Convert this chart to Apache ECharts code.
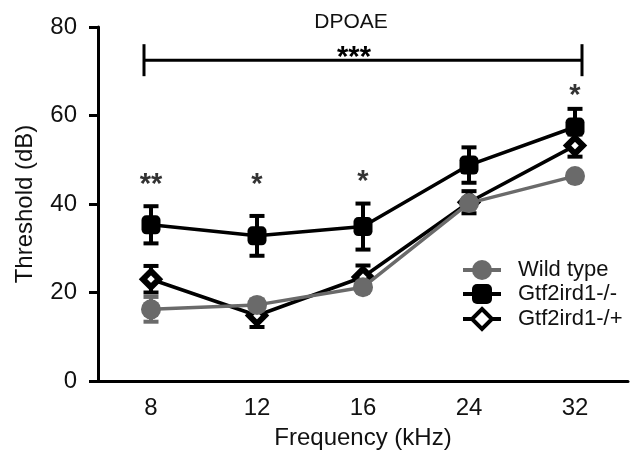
<!DOCTYPE html>
<html>
<head>
<meta charset="utf-8">
<script src="https://cdn.jsdelivr.net/npm/echarts@6/dist/echarts.min.js"></script>
<style>html,body{margin:0;padding:0;background:#fff;}#c{width:630px;height:455px;}</style>
</head>
<body>
<div id="c"></div>
<script>
const categories = ['8', '12', '16', '24', '32'];
const yTicks = [0, 20, 40, 60, 80];
const wildType = [16.2, 17.2, 21.2, 40.2, 46.3];
const wildTypeErr = [2.8, 1.2, 1.0, 1.0, 0.8];
const koHom = [35.3, 32.8, 34.9, 48.8, 57.4];
const koHomErr = [4.2, 4.5, 5.2, 4.0, 4.1];
const koHet = [23.0, 14.8, 23.5, 40.4, 53.2];
const koHetErr = [3.0, 2.6, 2.6, 2.5, 2.5];
const starLabels = ['**', '*', '*', '', '*'];
const starValues = [44.3, 44.3, 45.0, null, 64.4];
const bracketEnds = [0, 4];
const bracketValue = [72.5];
const bracketLabel = ['***'];
const panelTitle = ['DPOAE'];
const titleValue = [81];

const FONT = 'Liberation Sans, Arial, sans-serif';
const GRAY = '#6a6a6a';

function errData(vals, errs) {
  return vals.map((v, i) => [i, v - errs[i], v + errs[i]]);
}
function errSeries(name, vals, errs, color, z) {
  return {
    type: 'custom', name: name + '_err', z: z, silent: true,
    data: errData(vals, errs),
    renderItem: function (params, api) {
      const lo = api.coord([api.value(0), api.value(1)]);
      const hi = api.coord([api.value(0), api.value(2)]);
      const w = 7.5;
      const st = { stroke: color, lineWidth: 4 };
      return { type: 'group', children: [
        { type: 'line', shape: { x1: lo[0], y1: lo[1], x2: hi[0], y2: hi[1] }, style: st },
        { type: 'line', shape: { x1: lo[0] - w, y1: lo[1], x2: lo[0] + w, y2: lo[1] }, style: st },
        { type: 'line', shape: { x1: hi[0] - w, y1: hi[1], x2: hi[0] + w, y2: hi[1] }, style: st }
      ]};
    }
  };
}

const chart = echarts.init(document.getElementById('c'));
chart.setOption({
  animation: false,
  backgroundColor: '#fff',
  grid: { left: 98, right: 2, top: 27, bottom: 74 },
  legend: {
    data: [
      { name: 'Wild type' },
      { name: 'Gtf2ird1-/-' },
      { name: 'Gtf2ird1-/+', itemStyle: { color: '#fff', borderColor: '#000', borderWidth: 4 } }
    ],
    orient: 'vertical', left: 456, top: 254, itemGap: 2,
    itemWidth: 38, itemHeight: 25,
    lineStyle: { width: 4 },
    textStyle: { fontFamily: FONT, fontSize: 22, color: '#111', padding: [0, 0, 0, 12] }
  },
  xAxis: {
    type: 'category', data: categories, boundaryGap: true,
    name: 'Frequency (kHz)', nameLocation: 'middle', nameGap: 45,
    nameTextStyle: { fontFamily: FONT, fontSize: 24, color: '#111' },
    axisLine: { lineStyle: { color: '#000', width: 3 } },
    axisTick: { show: false },
    axisLabel: { fontFamily: FONT, fontSize: 24, color: '#111', margin: 15 },
    splitLine: { show: false }
  },
  yAxis: {
    type: 'value', min: yTicks[0], max: yTicks[yTicks.length - 1], interval: 20,
    name: 'Threshold (dB)', nameLocation: 'middle', nameGap: 61,
    nameTextStyle: { fontFamily: FONT, fontSize: 24, color: '#111' },
    axisLine: { show: true, lineStyle: { color: '#000', width: 3 } },
    axisTick: { show: true, length: 9, lineStyle: { color: '#000', width: 3 } },
    axisLabel: { fontFamily: FONT, fontSize: 24, color: '#111', margin: 21 },
    splitLine: { show: false }
  },
  series: [
    errSeries('Gtf2ird1-/-', koHom, koHomErr, '#000', 2),
    {
      name: 'Gtf2ird1-/-', type: 'line', data: koHom, z: 3,
      symbol: 'roundRect', symbolSize: 19,
      lineStyle: { color: '#000', width: 3.5 },
      itemStyle: { color: '#000' }
    },
    errSeries('Gtf2ird1-/+', koHet, koHetErr, '#000', 2),
    {
      name: 'Gtf2ird1-/+', type: 'line', data: koHet, z: 3,
      symbol: 'diamond', symbolSize: 16,
      lineStyle: { color: '#000', width: 3.5 },
      itemStyle: { color: '#fff', borderColor: '#000', borderWidth: 6 }
    },
    errSeries('Wild type', wildType, wildTypeErr, GRAY, 4),
    {
      name: 'Wild type', type: 'line', data: wildType, z: 5,
      symbol: 'circle', symbolSize: 20,
      lineStyle: { color: GRAY, width: 3.5 },
      itemStyle: { color: GRAY }
    },
    {
      type: 'scatter', name: 'stars', z: 6, silent: true,
      data: starValues.map((v, i) => ({ value: [i, v], label: { formatter: starLabels[i] } })),
      symbolSize: 0,
      label: { show: true, position: 'inside', fontFamily: FONT, fontSize: 29, fontWeight: 'bold', color: '#000' }
    },
    {
      type: 'custom', name: 'bracket', z: 6, silent: true, clip: false,
      data: [[bracketEnds[0], bracketEnds[1], bracketValue[0]]],
      renderItem: function (params, api) {
        const over = 7;
        const a = api.coord([api.value(0), api.value(2)]);
        const b = api.coord([api.value(1), api.value(2)]);
        a[0] -= over; b[0] += over;
        const h = 16;
        const st = { stroke: '#000', lineWidth: 3 };
        const midIdx = (api.value(0) + api.value(1)) / 2;
        const mid = api.coord([midIdx, api.value(2)]);
        const tt = api.coord([midIdx, titleValue[0]]);
        return { type: 'group', children: [
          { type: 'line', shape: { x1: a[0], y1: a[1], x2: b[0], y2: b[1] }, style: st },
          { type: 'line', shape: { x1: a[0], y1: a[1] - h, x2: a[0], y2: a[1] + h }, style: st },
          { type: 'line', shape: { x1: b[0], y1: b[1] - h, x2: b[0], y2: b[1] + h }, style: st },
          { type: 'text', x: mid[0] - 9, y: mid[1] - 2, style: { text: bracketLabel[0], fontFamily: FONT, fontSize: 29, fontWeight: 'bold', fill: '#000', align: 'center', verticalAlign: 'middle' } },
          { type: 'text', x: tt[0] - 12, y: tt[1], style: { text: panelTitle[0], fontFamily: FONT, fontSize: 21, fill: '#111', align: 'center', verticalAlign: 'middle' } }
        ]};
      }
    }
  ]
});
</script>
</body>
</html>
